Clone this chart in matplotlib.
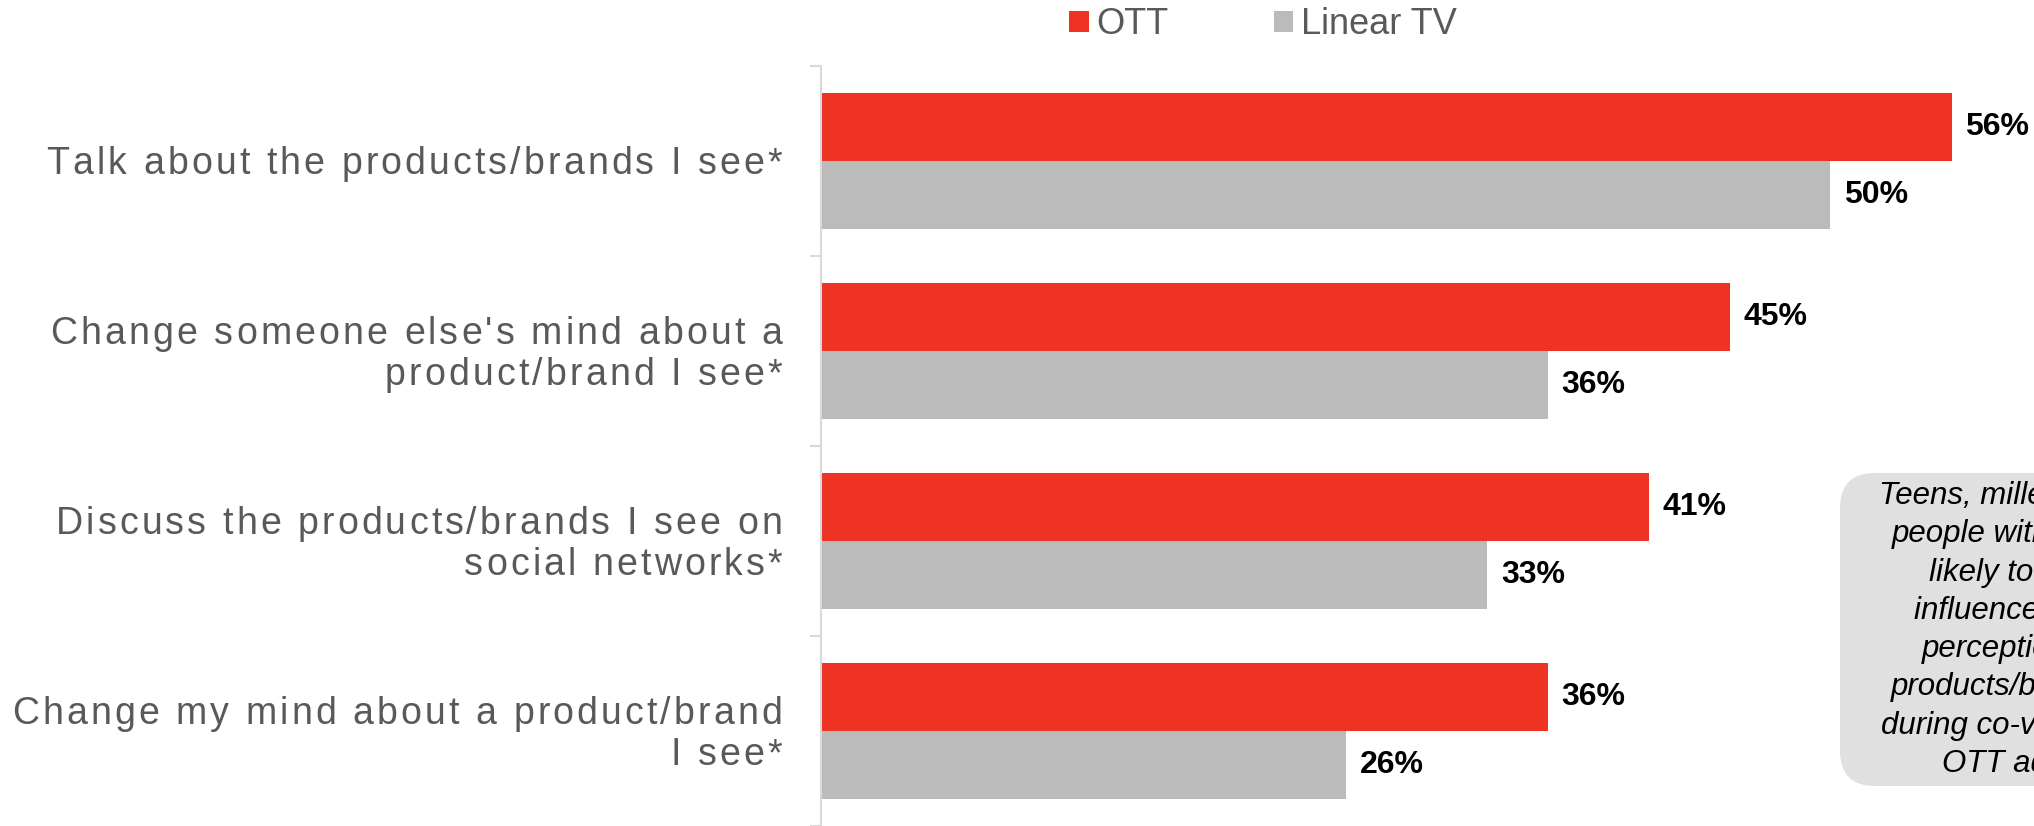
import numpy as np
import matplotlib.pyplot as plt
from matplotlib.font_manager import FontProperties, findfont
from matplotlib.ft2font import FT2Font
from matplotlib.patches import FancyBboxPatch
from matplotlib.transforms import offset_copy, IdentityTransform

plt.rcParams['font.family'] = ['Liberation Sans', 'DejaVu Sans']

# Survey answers, one entry per statement (split into display lines)
statements = [
    ["Talk about the products/brands I see*"],
    ["Change someone else's mind about a", "product/brand I see*"],
    ["Discuss the products/brands I see on", "social networks*"],
    ["Change my mind about a product/brand", "I see*"],
]
ott = [56, 45, 41, 36]
linear_tv = [50, 36, 33, 26]
series_names = ["OTT", "Linear TV"]

callout_lines = [
    "Teens, millennials",
    "people with kids",
    "likely to be",
    "influence the",
    "perceptions",
    "products/brands",
    "during co-viewing",
    "OTT ads",
]

RED = '#ee3224'
GREY = '#bbbbbb'
TEXT_GREY = '#595959'
AXIS_GREY = '#d9d9d9'
BOX_GREY = '#e0e0e0'

W, H, DPI = 2034, 826, 100
fig = plt.figure(figsize=(W / DPI, H / DPI), dpi=DPI)
ax = fig.add_axes([821 / W, 0, 1213 / W, 760 / H])

y = np.arange(len(statements))
bh = 0.358
b_ott = ax.barh(y - bh / 2, ott, height=bh, color=RED, label=series_names[0])
b_tv = ax.barh(y + bh / 2, linear_tv, height=bh, color=GREY, label=series_names[1])

for bars, vals in ((b_ott, ott), (b_tv, linear_tv)):
    ax.bar_label(bars, labels=[f'{v}%' for v in vals], padding=10,
                 fontsize=23, fontweight='bold', color='black')

ax.set_xlim(0, 60.08)
ax.set_ylim(len(statements) - 0.5, -0.5)

for side in ('top', 'right', 'bottom'):
    ax.spines[side].set_visible(False)
ax.spines['left'].set_color(AXIS_GREY)
ax.spines['left'].set_linewidth(1.5)
ax.set_xticks([])
ax.set_yticks([])
ax.set_yticks(np.arange(-0.5, len(statements)), minor=True)
ax.tick_params(axis='y', which='minor', length=8, width=1.5, color=AXIS_GREY,
               labelleft=False)

# Category labels are letter-spaced, so lay them out glyph by glyph
LABEL_SIZE = 27
TRACK = 2.25         # extra points between letters
RIGHT_GAP = 28       # points between label end and the axis
LINE_STEP = 29.5     # points between label lines
face = FT2Font(findfont(FontProperties(family='Liberation Sans')))
face.set_size(LABEL_SIZE, 72)


def advance(ch):
    return face.load_char(ord(ch)).linearHoriAdvance / 65536


def tracked_line(yval, text, dy):
    widths = [advance(c) for c in text]
    total = sum(widths) + TRACK * (len(text) - 1)
    x = -RIGHT_GAP - total
    base = dy - 0.716 * LABEL_SIZE / 2
    for c, w in zip(text, widths):
        if c != ' ':
            tr = offset_copy(ax.get_yaxis_transform(), fig=fig,
                             x=x, y=base, units='points')
            ax.text(0, yval, c, transform=tr, ha='left', va='baseline',
                    fontsize=LABEL_SIZE, color=TEXT_GREY, clip_on=False)
        x += w + TRACK


for yi, lines in zip(y, statements):
    n = len(lines)
    for k, line in enumerate(lines):
        dy = (n - 1) / 2 * LINE_STEP - k * LINE_STEP
        tracked_line(yi, line, dy)

fig.legend(handles=[b_ott, b_tv], loc='center',
           bbox_to_anchor=(1263 / W, (H - 25) / H), ncol=2, frameon=False,
           fontsize=26, labelcolor=TEXT_GREY, handlelength=0.53,
           handleheight=0.53, handletextpad=0.22, columnspacing=2.9,
           borderpad=0, borderaxespad=0)

# Callout box running off the right edge
box = FancyBboxPatch((1840, H - 786), 330, 313,
                     boxstyle='round,pad=0,rounding_size=35',
                     transform=IdentityTransform(), facecolor=BOX_GREY,
                     edgecolor='none')
fig.patches.append(box)
fig.text(2003 / W, (H - 630) / H, '\n'.join(callout_lines), ha='center',
         va='center', fontsize=22.5, style='italic', color='black',
         linespacing=1.36)

fig.savefig('out.png', dpi=DPI)
